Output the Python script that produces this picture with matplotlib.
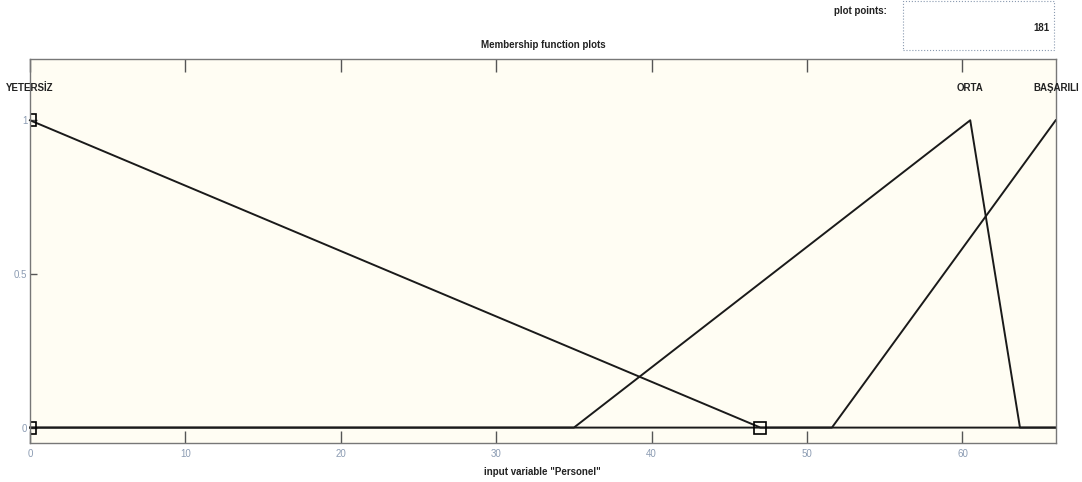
import matplotlib.pyplot as plt
from matplotlib.patches import Rectangle

# membership functions of input variable "Personel" (vertices of each line)
mf_names = ['YETERSİZ', 'ORTA', 'BAŞARILI']
yetersiz_x = [0, 47, 66]
yetersiz_y = [1, 0, 0]
orta_x = [0, 35, 60.5, 63.7, 66]
orta_y = [0, 0, 1, 0, 0]
basarili_x = [0, 51.6, 66]
basarili_y = [0, 0, 1]
peaks = [0, 60.5, 66]
handle_x = [0, 0, 47]
handle_y = [1, 0, 0]
plot_points = 181

x_ticks = [0, 10, 20, 30, 40, 50, 60]
y_ticks = [0, 0.5, 1]

plt.rcParams['font.family'] = ['Liberation Sans Narrow', 'Liberation Sans', 'DejaVu Sans']

fig = plt.figure(figsize=(10.82, 4.82), dpi=100)
ax = fig.add_axes([0.0277, 0.081, 0.948, 0.797])
ax.set_facecolor('#fffdf3')

for xs, ys in [(yetersiz_x, yetersiz_y), (orta_x, orta_y), (basarili_x, basarili_y)]:
    ax.plot(xs, ys, color='#1a1a1a', lw=1.4, clip_on=False)

ax.plot(handle_x, handle_y, ls='none', marker='s', ms=8, mfc='none',
        mec='black', mew=1.2, clip_on=True)

for name, px in zip(mf_names, peaks):
    ax.text(px, 1.105, name, ha='center', va='center', fontsize=7,
            fontweight='bold', color='#222222')

ax.set_xlim(0, 66)
ax.set_ylim(-0.05, 1.2)
ax.set_xticks(x_ticks)
ax.set_yticks(y_ticks)
ax.set_xticklabels([str(t) for t in x_ticks])
ax.set_yticklabels(['0', '0.5', '1'])
ax.tick_params(direction='in', length=9, width=1, color='#555555',
               labelsize=7, labelcolor='#8c9cb3', top=True, right=False,
               pad=4)
ax.tick_params(axis='y', length=5, pad=2)
for s in ax.spines.values():
    s.set_color('#777777')
    s.set_linewidth(1)

ax.set_title('Membership function plots', fontsize=7, fontweight='bold',
             color='#222222', pad=8)
ax.set_xlabel('input variable "Personel"', fontsize=7, fontweight='bold',
              color='#222222', labelpad=6)

# plot points box
fig.text(0.82, 0.978, 'plot points:', fontsize=7, fontweight='bold',
         color='#222222', va='center', ha='right')
fig.patches.append(Rectangle((0.8346, 0.896), 0.1396, 0.102,
                             transform=fig.transFigure, fill=False,
                             ec='#8a9ab0', lw=0.8, ls=':'))
fig.text(0.97, 0.942, str(plot_points), fontsize=7, fontweight='bold',
         color='#222222', ha='right', va='center')

fig.savefig('out.png', dpi=100)
